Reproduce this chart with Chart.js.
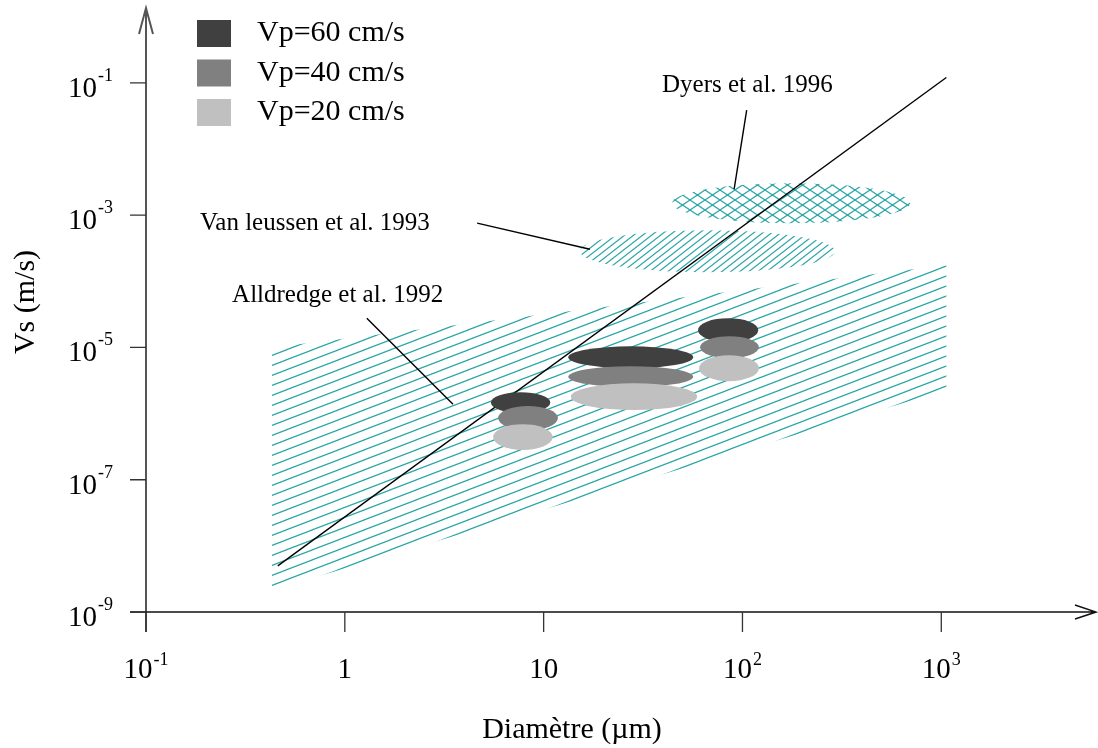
<!DOCTYPE html>
<html lang="fr">
<head>
<meta charset="utf-8">
<title>Vitesse de chute des flocs</title>
<script src="https://cdn.jsdelivr.net/npm/chart.js@4.4.1/dist/chart.umd.min.js"></script>
<style>
  html, body { margin: 0; padding: 0; background: #fff; }
  #wrap { position: relative; width: 1098px; height: 748px; }
</style>
</head>
<body>
<div id="wrap"><canvas id="vsChart"></canvas></div>
<script>
// axes (diamètre en µm, vitesse en m/s)
const xTicks = [0.1, 1, 10, 100, 1000];
const xTickText = ['10^-1', '1', '10', '10^2', '10^3'];
const yTicks = [1e-9, 1e-7, 1e-5, 1e-3, 1e-1];
const yTickText = ['10^-9', '10^-7', '10^-5', '10^-3', '10^-1'];

// droite de Stokes
const stokesX = [0.46, 1060];
const stokesY = [5e-9, 0.12];

// zone Alldredge et al. 1992
const alldredgeX = [0.43, 1060, 1060, 0.43];
const alldredgeY = [1.0e-5, 1.75e-4, 2.26e-6, 2.15e-9];

// zones elliptiques : [xMin, xMax, yMin, yMax]
const vanLeussenBox = [15.2, 292, 1.37e-4, 5.9e-4];
const dyersBox = [44.3, 697, 7.55e-4, 3.03e-3];

// mesures par vitesse de pompage, une entrée par classe de taille
const vpLabels = ['Vp=60 cm/s', 'Vp=40 cm/s', 'Vp=20 cm/s'];
const vp60 = [[5.43, 10.8, 1.02e-6, 2.11e-6], [13.3, 56.5, 4.86e-6, 1.04e-5], [59.8, 120, 1.20e-5, 2.77e-5]];
const vp40 = [[5.90, 11.8, 5.62e-7, 1.30e-6], [13.3, 56.5, 2.51e-6, 5.21e-6], [61.2, 121, 6.89e-6, 1.48e-5]];
const vp20 = [[5.57, 11.1, 2.81e-7, 6.93e-7], [13.7, 59.2, 1.13e-6, 2.88e-6], [60.5, 121, 3.09e-6, 7.64e-6]];

// annotations
const noteText = ['Dyers et al. 1996', 'Van leussen et al. 1993', 'Alldredge et al. 1992'];
const noteX = [39.4, 0.187, 0.271];
const noteY = [0.072, 5.9e-4, 4.83e-5];
const leaderX = [[105, 90.8], [4.63, 17.1], [1.29, 3.50]];
const leaderY = [[0.0385, 2.47e-3], [7.55e-4, 3.05e-4], [2.77e-5, 1.39e-6]];

const vpColors = ['#404040', '#808080', '#c0c0c0'];
const hatchColor = '#2aa5a5';
const serif = '"Liberation Serif", "Times New Roman", serif';

// motif hachuré (w x h), croisé si cross
function hatch(w, h, cross) {
  const c = document.createElement('canvas');
  c.width = w;
  c.height = h;
  const g = c.getContext('2d');
  g.strokeStyle = hatchColor;
  g.lineWidth = 1.2;
  for (const k of [-1, 0, 1]) {
    g.beginPath();
    g.moveTo(-w, 2 * h + k * h);
    g.lineTo(2 * w, -h + k * h);
    g.stroke();
    if (cross) {
      g.beginPath();
      g.moveTo(-w, -h + k * h);
      g.lineTo(2 * w, 2 * h + k * h);
      g.stroke();
    }
  }
  return g.createPattern(c, 'repeat');
}

const zip = (xs, ys) => xs.map((x, i) => ({ x: x, y: ys[i] }));

function ellipse(ctx, chart, box, fill) {
  const xs = chart.scales.x, ys = chart.scales.y;
  const x0 = xs.getPixelForValue(box[0]), x1 = xs.getPixelForValue(box[1]);
  const y0 = ys.getPixelForValue(box[2]), y1 = ys.getPixelForValue(box[3]);
  ctx.fillStyle = fill;
  ctx.beginPath();
  ctx.ellipse((x0 + x1) / 2, (y0 + y1) / 2, Math.abs(x1 - x0) / 2, Math.abs(y1 - y0) / 2, 0, 0, Math.PI * 2);
  ctx.fill();
}

// "10^-3" -> 10 avec exposant
function powText(ctx, text, x, base, align, supLift) {
  const parts = text.split('^');
  ctx.font = '29px ' + serif;
  const wb = ctx.measureText(parts[0]).width;
  ctx.font = '18px ' + serif;
  const ws = parts[1] ? ctx.measureText(parts[1]).width + 1 : 0;
  const total = wb + ws;
  let left = align === 'right' ? x - total : x - total / 2;
  ctx.textAlign = 'left';
  ctx.textBaseline = 'alphabetic';
  ctx.font = '29px ' + serif;
  ctx.fillText(parts[0], left, base);
  if (parts[1]) {
    ctx.font = '18px ' + serif;
    ctx.fillText(parts[1], left + wb + 1, base - supLift);
  }
}

const zonesPlugin = {
  id: 'zones',
  beforeDatasetsDraw(chart) {
    const ctx = chart.ctx;
    ctx.save();
    ellipse(ctx, chart, vanLeussenBox, hatch(9, 7, false));
    ellipse(ctx, chart, dyersBox, hatch(15, 10, true));
    ctx.restore();
  },
  afterDatasetsDraw(chart) {
    const ctx = chart.ctx;
    ctx.save();
    [vp60, vp40, vp20].forEach((groups, i) => {
      groups.forEach(box => ellipse(ctx, chart, box, vpColors[i]));
    });
    ctx.restore();
  }
};

const axesPlugin = {
  id: 'axesDecor',
  afterDraw(chart) {
    const ctx = chart.ctx;
    const a = chart.chartArea;
    const xs = chart.scales.x, ys = chart.scales.y;
    const ax = xs.getPixelForValue(xTicks[0]);
    const ay = ys.getPixelForValue(yTicks[0]);
    ctx.save();

    // axe vertical + flèche
    ctx.strokeStyle = '#555';
    ctx.lineWidth = 2;
    ctx.beginPath();
    ctx.moveTo(ax, a.bottom);
    ctx.lineTo(ax, a.top);
    ctx.moveTo(ax - 7, a.top + 26);
    ctx.lineTo(ax, a.top);
    ctx.lineTo(ax + 7, a.top + 26);
    ctx.stroke();

    // axe horizontal + flèche
    ctx.strokeStyle = '#111';
    ctx.lineWidth = 1.5;
    ctx.beginPath();
    ctx.moveTo(ax - 16, ay);
    ctx.lineTo(a.right, ay);
    ctx.moveTo(a.right - 21, ay - 7);
    ctx.lineTo(a.right, ay);
    ctx.lineTo(a.right - 21, ay + 7);
    ctx.stroke();

    // graduations
    ctx.strokeStyle = '#333';
    ctx.lineWidth = 1.3;
    ctx.beginPath();
    xTicks.forEach(v => {
      const px = xs.getPixelForValue(v);
      ctx.moveTo(px, ay);
      ctx.lineTo(px, ay + 20);
    });
    yTicks.forEach(v => {
      const py = ys.getPixelForValue(v);
      ctx.moveTo(ax - 16, py);
      ctx.lineTo(ax, py);
    });
    ctx.stroke();

    ctx.fillStyle = '#000';
    xTicks.forEach((v, i) => powText(ctx, xTickText[i], xs.getPixelForValue(v), ay + 66, 'center', 13));
    yTicks.forEach((v, i) => powText(ctx, yTickText[i], ax - 33, ys.getPixelForValue(v) + 14, 'right', 16));

    // titres des axes
    ctx.font = '30px ' + serif;
    ctx.textAlign = 'center';
    ctx.textBaseline = 'alphabetic';
    ctx.fillText('Diamètre (µm)', 572, 738);
    ctx.save();
    ctx.translate(26, 302);
    ctx.rotate(-Math.PI / 2);
    ctx.textBaseline = 'middle';
    ctx.fillText('Vs (m/s)', 0, 0);
    ctx.restore();

    // légende
    vpLabels.forEach((lab, i) => {
      ctx.fillStyle = vpColors[i];
      ctx.fillRect(197, 20 + i * 39.5, 34, 27);
      ctx.fillStyle = '#000';
      ctx.font = '30px ' + serif;
      ctx.textAlign = 'left';
      ctx.fillText(lab, 257, 41 + i * 39.5);
    });

    // annotations
    ctx.font = '25px ' + serif;
    ctx.textAlign = 'left';
    noteText.forEach((t, i) => {
      ctx.fillText(t, xs.getPixelForValue(noteX[i]), ys.getPixelForValue(noteY[i]));
    });
    ctx.restore();
  }
};

document.addEventListener('DOMContentLoaded', () => {
  const datasets = [
    {
      label: 'Alldredge et al. 1992',
      data: zip(alldredgeX, alldredgeY),
      borderWidth: 0,
      pointRadius: 0,
      fill: 'shape',
      backgroundColor: hatch(26, 10, false),
      order: 5
    },
    {
      label: 'Stokes',
      data: zip(stokesX, stokesY),
      borderColor: '#000',
      borderWidth: 1.4,
      pointRadius: 0,
      fill: false,
      order: 1
    }
  ];
  leaderX.forEach((lx, i) => {
    datasets.push({
      label: noteText[i],
      data: zip(lx, leaderY[i]),
      borderColor: '#000',
      borderWidth: 1.4,
      pointRadius: 0,
      fill: false,
      order: 1
    });
  });

  const ctx = document.getElementById('vsChart').getContext('2d');
  new Chart(ctx, {
    type: 'line',
    data: { datasets: datasets },
    options: {
      responsive: true,
      maintainAspectRatio: false,
      animation: false,
      events: [],
      layout: { padding: { left: 146, right: 2, top: 8, bottom: 116 } },
      plugins: {
        legend: { display: false },
        tooltip: { enabled: false }
      },
      scales: {
        x: { type: 'logarithmic', min: 0.1, max: 6000, display: false },
        y: { type: 'logarithmic', min: 5e-10, max: 1.35, display: false }
      }
    },
    plugins: [zonesPlugin, axesPlugin]
  });
});
</script>
</body>
</html>
